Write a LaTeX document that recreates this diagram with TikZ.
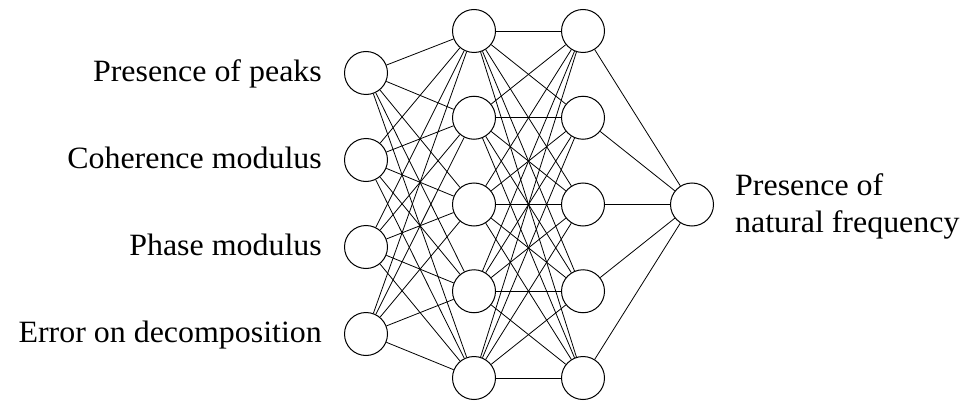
\documentclass[tikz,border=0pt]{standalone}
\usepackage{fontspec}
\setmainfont{Liberation Serif}[FakeStretch=1.03]
\begin{document}
\begin{tikzpicture}[x=1pt,y=-1pt,
  neuron/.style={circle,draw,line width=1pt,minimum size=43pt,inner sep=0pt,fill=white},
  edge/.style={line width=0.8pt},
  lbl/.style={font=\fontsize{31}{37}\selectfont,inner sep=0pt}]
\useasboundingbox (0,0) rectangle (960,401);
% inputs
\foreach \i/\y in {1/73,2/160,3/247,4/334} \node[neuron] (I\i) at (366,\y) {};
\foreach \i/\y in {1/31,2/117.75,3/204.5,4/291.25,5/378} {
  \node[neuron] (A\i) at (474,\y) {};
  \node[neuron] (B\i) at (583,\y) {};
}
\node[neuron] (O) at (692,204.5) {};
\foreach \i in {1,...,4} \foreach \j in {1,...,5} \draw[edge] (I\i) -- (A\j);
\foreach \i in {1,...,5} \foreach \j in {1,...,5} \draw[edge] (A\i) -- (B\j);
\foreach \i in {1,...,5} \draw[edge] (B\i) -- (O);
% labels
\node[lbl,anchor=base east] (L1) at (322,82) {Presence of peaks};
\node[lbl,anchor=base east] (L2) at (322,168) {Coherence modulus};
\node[lbl,anchor=base east] (L3) at (322,255) {Phase modulus};
\node[lbl,anchor=base east] (L4) at (322,342) {Error on decomposition};
\node[lbl,anchor=base west,align=left] (LO) at (735,232) {Presence of\\natural frequency};
\end{tikzpicture}
\end{document}
